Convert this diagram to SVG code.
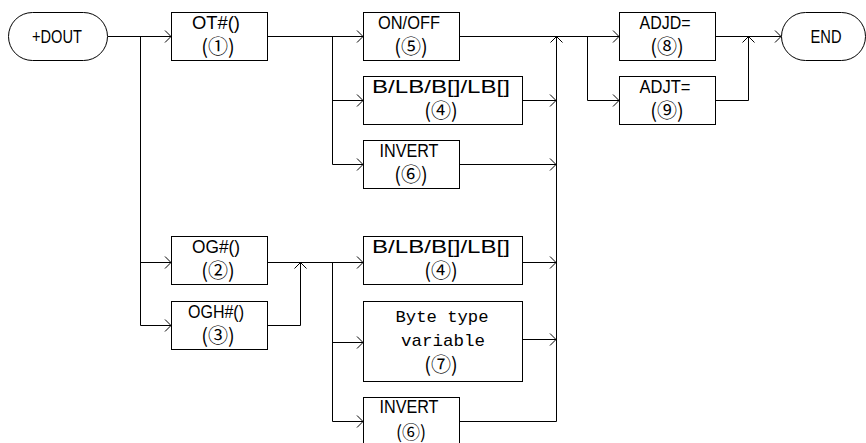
<svg xmlns="http://www.w3.org/2000/svg" width="866" height="443" viewBox="0 0 866 443">
<style>
.b{fill:#fff;stroke:#000;stroke-width:1}
.c{fill:none;stroke:#000;stroke-width:1}
.t{font-family:"Liberation Sans","Noto Sans CJK JP",sans-serif;font-size:19px;fill:#000;text-anchor:middle}
.n{font-family:"Noto Sans CJK JP","DejaVu Sans",sans-serif;font-size:20px;fill:#000;text-anchor:middle}
.m{font-family:"Liberation Mono","DejaVu Sans Mono",monospace;font-size:17px;fill:#000;text-anchor:middle}
</style>
<defs>
<marker id="a" markerUnits="userSpaceOnUse" markerWidth="12" markerHeight="14" refX="7" refY="7" orient="auto" viewBox="0 0 12 14">
<path d="M1,1 L7,7 L1,13" fill="none" stroke="#000" stroke-width="1"/>
</marker>
</defs>
<g id="connectors">
<path class="c" d="M108,36.5 H171" marker-end="url(#a)"/>
<path class="c" d="M140.5,36 V325.5 H171" marker-end="url(#a)"/>
<path class="c" d="M140.5,262.5 H171" marker-end="url(#a)"/>
<path class="c" d="M268,36.5 H363" marker-end="url(#a)"/>
<path class="c" d="M332.5,36 V164.5 H363" marker-end="url(#a)"/>
<path class="c" d="M332.5,100.5 H363" marker-end="url(#a)"/>
<path class="c" d="M460,36.5 H619" marker-end="url(#a)"/>
<path class="c" d="M523,100.5 H556" marker-end="url(#a)"/>
<path class="c" d="M460,164.5 H556" marker-end="url(#a)"/>
<path class="c" d="M460,421.5 H556.5 V36.5" marker-end="url(#a)"/>
<path class="c" d="M587.5,36 V100.5 H619" marker-end="url(#a)"/>
<path class="c" d="M716,36.5 H781" marker-end="url(#a)"/>
<path class="c" d="M716,100.5 H748.5 V36.5" marker-end="url(#a)"/>
<path class="c" d="M268,262.5 H363" marker-end="url(#a)"/>
<path class="c" d="M268,325.5 H300.5 V262.5" marker-end="url(#a)"/>
<path class="c" d="M332.5,262 V421.5 H363" marker-end="url(#a)"/>
<path class="c" d="M332.5,342.5 H363" marker-end="url(#a)"/>
<path class="c" d="M523,262.5 H556" marker-end="url(#a)"/>
<path class="c" d="M523,339.5 H556" marker-end="url(#a)"/>
</g>
<g id="start">
<rect class="b" x="8.5" y="12.5" width="99" height="48" rx="24" ry="24"/>
<text class="t" x="57" y="43" textLength="50" lengthAdjust="spacingAndGlyphs">+DOUT</text>
</g>
<g id="ot">
<rect class="b" x="171.5" y="12.5" width="96" height="48"/>
<text class="t" x="216" y="29" textLength="48" lengthAdjust="spacingAndGlyphs">OT#()</text>
<text class="n" x="218" y="54">(①)</text>
</g>
<g id="onoff">
<rect class="b" x="363.5" y="12.5" width="96" height="48"/>
<text class="t" x="409" y="29" textLength="62" lengthAdjust="spacingAndGlyphs">ON/OFF</text>
<text class="n" x="411" y="54">(⑤)</text>
</g>
<g id="blb1">
<rect class="b" x="363.5" y="76.5" width="159" height="48"/>
<text class="t" x="441" y="93" textLength="138" lengthAdjust="spacingAndGlyphs">B/LB/B[]/LB[]</text>
<text class="n" x="441" y="118">(④)</text>
</g>
<g id="invert1">
<rect class="b" x="363.5" y="140.5" width="96" height="48"/>
<text class="t" x="409" y="157" textLength="59" lengthAdjust="spacingAndGlyphs">INVERT</text>
<text class="n" x="411" y="182">(⑥)</text>
</g>
<g id="adjd">
<rect class="b" x="619.5" y="12.5" width="96" height="48"/>
<text class="t" x="665" y="29" textLength="51" lengthAdjust="spacingAndGlyphs">ADJD=</text>
<text class="n" x="667" y="54">(⑧)</text>
</g>
<g id="adjt">
<rect class="b" x="619.5" y="76.5" width="96" height="48"/>
<text class="t" x="665" y="93" textLength="51" lengthAdjust="spacingAndGlyphs">ADJT=</text>
<text class="n" x="667" y="118">(⑨)</text>
</g>
<g id="end">
<rect class="b" x="781.5" y="12.5" width="84" height="48" rx="24" ry="24"/>
<text class="t" x="826" y="43" textLength="31" lengthAdjust="spacingAndGlyphs">END</text>
</g>
<g id="og">
<rect class="b" x="171.5" y="236.5" width="96" height="48"/>
<text class="t" x="216" y="253" textLength="48" lengthAdjust="spacingAndGlyphs">OG#()</text>
<text class="n" x="218" y="278">(②)</text>
</g>
<g id="ogh">
<rect class="b" x="171.5" y="301.5" width="96" height="48"/>
<text class="t" x="216" y="318" textLength="56" lengthAdjust="spacingAndGlyphs">OGH#()</text>
<text class="n" x="218" y="343">(③)</text>
</g>
<g id="blb2">
<rect class="b" x="363.5" y="236.5" width="159" height="48"/>
<text class="t" x="441" y="253" textLength="138" lengthAdjust="spacingAndGlyphs">B/LB/B[]/LB[]</text>
<text class="n" x="441" y="278">(④)</text>
</g>
<g id="bytetype">
<rect class="b" x="363.5" y="301.5" width="159" height="80"/>
<text class="m" x="442" y="322" textLength="93" lengthAdjust="spacingAndGlyphs">Byte type</text>
<text class="m" x="443" y="346" textLength="84" lengthAdjust="spacingAndGlyphs">variable</text>
<text class="n" x="441" y="372">(⑦)</text>
</g>
<g id="invert2">
<rect class="b" x="363.5" y="397.5" width="96" height="50"/>
<text class="t" x="409" y="413" textLength="59" lengthAdjust="spacingAndGlyphs">INVERT</text>
<text class="n" x="411" y="439" style="font-size:18px">(⑥)</text>
</g>
</svg>
